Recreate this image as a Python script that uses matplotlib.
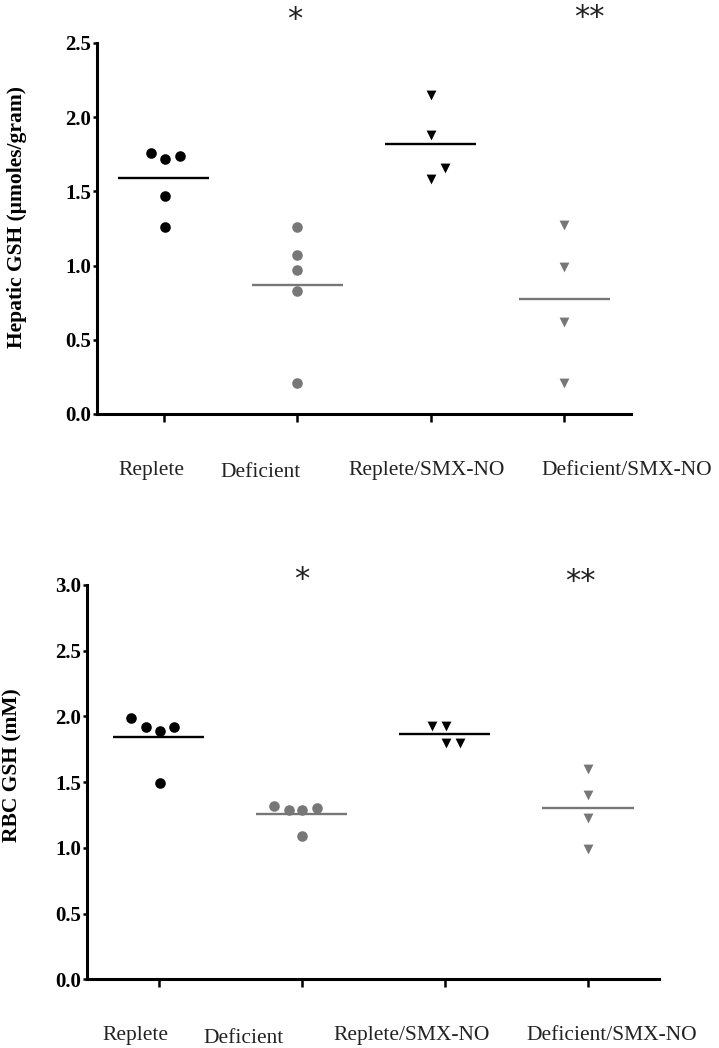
import numpy as np
import matplotlib
matplotlib.use("Agg")
import matplotlib.pyplot as plt

# =========================
# data
# =========================
groups = ["Replete", "Deficient", "Replete/SMX-NO", "Deficient/SMX-NO"]

# hepatic GSH (umoles/gram)
hep_replete = [1.76, 1.72, 1.74, 1.47, 1.26]
hep_deficient = [1.26, 1.07, 0.97, 0.83, 0.21]
hep_replete_smx = [2.15, 1.88, 1.66, 1.58]
hep_deficient_smx = [1.27, 0.99, 0.62, 0.21]

# RBC GSH (mM)
rbc_replete = [1.99, 1.92, 1.89, 1.92, 1.49]
rbc_deficient = [1.32, 1.29, 1.29, 1.30, 1.09]
rbc_replete_smx = [1.93, 1.93, 1.80, 1.80]
rbc_deficient_smx = [1.60, 1.40, 1.23, 0.99]

hep_stars = ["", "*", "", "**"]
rbc_stars = ["", "*", "", "**"]

# =========================
# style
# =========================
BLACK = "black"
GRAY = "#777777"
SERIF = ["Liberation Serif", "DejaVu Serif"]

plt.rcParams["font.family"] = SERIF

fig = plt.figure(figsize=(7.19, 10.48), dpi=100)

# horizontal jitter of the dots (column-scatter layout)
hep_dx = [[-0.095, 0.013, 0.12, 0.013, 0.013],
          [0.0, 0.0, 0.0, 0.0, 0.0],
          [0.0, 0.0, 0.11, 0.0],
          [0.0, 0.0, 0.0, 0.0]]
rbc_dx = [[-0.19, -0.09, 0.01, 0.107, 0.01],
          [-0.19, -0.09, 0.0, 0.105, 0.0],
          [-0.09, 0.01, 0.01, 0.11],
          [0.0, 0.0, 0.0, 0.0]]


def panel(ax, series, dx, ylim, yticks, stars, star_pos, lw_half):
    markers = ["o", "o", "v", "v"]
    colors = [BLACK, GRAY, BLACK, GRAY]
    sizes = [58, 58, 50, 50]
    for i, vals in enumerate(series):
        xs = [i + d for d in dx[i]]
        ax.scatter(xs, vals, marker=markers[i], color=colors[i], s=sizes[i],
                   linewidths=0, zorder=3, clip_on=False)
        m = np.mean(vals)
        ax.plot([i - lw_half, i + lw_half], [m, m], color=colors[i], lw=1.7,
                solid_capstyle="butt", zorder=2)
    for i, s in enumerate(stars):
        if s:
            ax.text(star_pos[i][0], star_pos[i][1], s, ha="center", va="center",
                    fontsize=22, family=["DejaVu Sans"],
                    color="#222222", clip_on=False)

    ax.set_xlim(-0.5, 3.5)
    ax.set_ylim(*ylim)
    ax.set_yticks(yticks)
    ax.set_yticklabels([f"{t:.1f}" for t in yticks], fontweight="bold", fontsize=15)
    ax.set_xticks(range(len(groups)))
    ax.set_xticklabels([])
    ax.spines["top"].set_visible(False)
    ax.spines["right"].set_visible(False)
    ax.spines["left"].set_linewidth(2.2)
    ax.spines["bottom"].set_linewidth(2.2)
    ax.tick_params(axis="y", length=3, width=1.8, pad=1)
    ax.tick_params(axis="x", length=6, width=1.8)


# =========================
# top: hepatic GSH
# =========================
ax1 = fig.add_axes([0.1349, 0.6050, 0.7427, 0.3540])
panel(ax1,
      [hep_replete, hep_deficient, hep_replete_smx, hep_deficient_smx],
      hep_dx, (0, 2.5), [0.0, 0.5, 1.0, 1.5, 2.0, 2.5], hep_stars,
      [None, (0.98, 2.66), None, (3.19, 2.67)], 0.34)

# =========================
# bottom: RBC GSH
# =========================
ax2 = fig.add_axes([0.121, 0.0655, 0.796, 0.3763])
panel(ax2,
      [rbc_replete, rbc_deficient, rbc_replete_smx, rbc_deficient_smx],
      rbc_dx, (0, 3.0), [0.0, 0.5, 1.0, 1.5, 2.0, 2.5, 3.0], rbc_stars,
      [None, (1.0, 3.04), None, (2.95, 3.03)], 0.32)

# y axis titles
fig.text(0.024, 0.793, "Hepatic GSH (\u03bcmoles/gram)", rotation=90,
         ha="center", va="center", fontweight="bold", fontsize=15.5)
fig.text(0.018, 0.270, "RBC GSH (mM)", rotation=90,
         ha="center", va="center", fontweight="bold", fontsize=15.5)

# group names sit below the axes, not under the ticks
top_lab_x = [0.210, 0.362, 0.593, 0.872]
top_lab_y = [0.5468, 0.5448, 0.5468, 0.5468]
bot_lab_x = [0.189, 0.339, 0.572, 0.851]
bot_lab_y = [0.0076, 0.0048, 0.0076, 0.0076]
for g, x, y in zip(groups, top_lab_x, top_lab_y):
    fig.text(x, y, g, ha="center", va="baseline", fontsize=15.5, color="#222222")
for g, x, y in zip(groups, bot_lab_x, bot_lab_y):
    fig.text(x, y, g, ha="center", va="baseline", fontsize=15.5, color="#222222")

fig.savefig("out.png", dpi=100)
